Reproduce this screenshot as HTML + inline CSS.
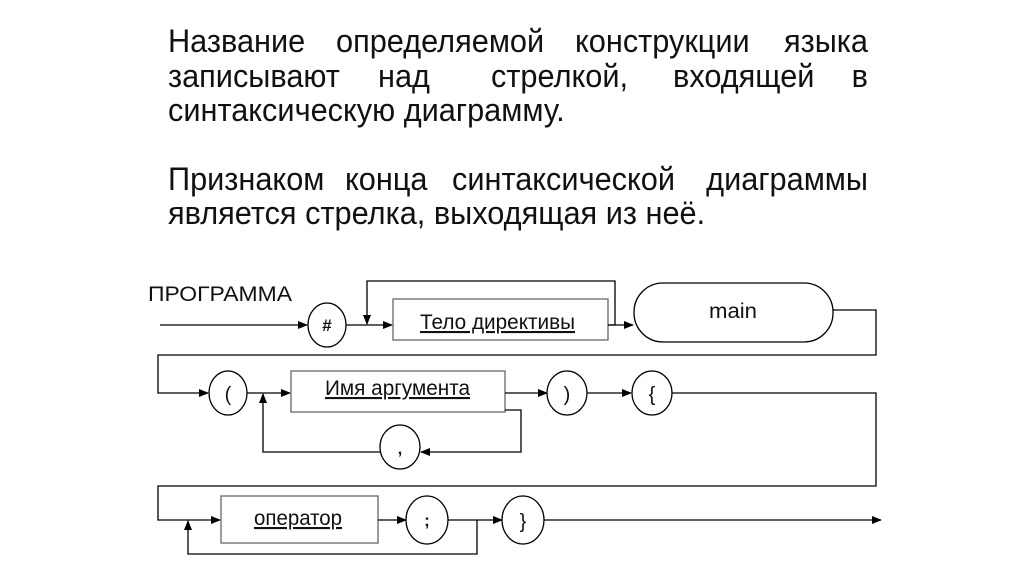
<!DOCTYPE html>
<html><head><meta charset="utf-8"><style>
html,body{margin:0;padding:0;background:#fff;width:1024px;height:574px;overflow:hidden}
svg text{font-family:"Liberation Sans",sans-serif;fill:#111}
</style></head><body>
<svg width="1024" height="574" viewBox="0 0 1024 574" xmlns="http://www.w3.org/2000/svg">
<defs><marker id="a" markerWidth="10" markerHeight="8" refX="9" refY="4" orient="auto" markerUnits="userSpaceOnUse"><path d="M0,0 L10,4 L0,8 z" fill="#000"/></marker></defs>
<g font-size="32">
<text transform="translate(168,52) scale(0.96,1)">Название</text>
<text transform="translate(336,52) scale(0.96,1)">определяемой</text>
<text transform="translate(575,52) scale(0.96,1)">конструкции</text>
<text transform="translate(868,52) scale(0.96,1)" text-anchor="end">языка</text>
<text transform="translate(168,87) scale(0.96,1)">записывают</text>
<text transform="translate(378,87) scale(0.96,1)">над</text>
<text transform="translate(491,87) scale(0.96,1)">стрелкой,</text>
<text transform="translate(673,87) scale(0.96,1)">входящей</text>
<text transform="translate(868,87) scale(0.96,1)" text-anchor="end">в</text>
<text transform="translate(168,121) scale(0.96,1)">синтаксическую диаграмму.</text>
<text transform="translate(168,190) scale(0.96,1)">Признаком</text>
<text transform="translate(345,190) scale(0.96,1)">конца</text>
<text transform="translate(452,190) scale(0.96,1)">синтаксической</text>
<text transform="translate(868,190) scale(0.96,1)" text-anchor="end">диаграммы</text>
<text transform="translate(168,224) scale(0.96,1)">является стрелка, выходящая из неё.</text>
</g>
<g fill="none" stroke="#000" stroke-width="1.3">
<line x1="160" y1="325" x2="307" y2="325" marker-end="url(#a)"/>
<ellipse cx="327" cy="325" rx="19" ry="22" fill="#fff"/>
<line x1="346" y1="325" x2="392" y2="325" marker-end="url(#a)"/>
<polyline points="608,325 615,325 615,281 367,281 367,324" marker-end="url(#a)"/>
<rect x="393" y="299" width="215" height="41" fill="#fff" stroke="#666"/>
<line x1="608" y1="325" x2="633" y2="325" marker-end="url(#a)"/>
<rect x="634" y="283" width="199" height="59" rx="29" fill="#fff"/>
<polyline points="833,310 876,310 876,355 158,355 158,393 208,393" marker-end="url(#a)"/>
<ellipse cx="228" cy="393" rx="19" ry="22" fill="#fff"/>
<line x1="247" y1="393" x2="290" y2="393" marker-end="url(#a)"/>
<rect x="291" y="371" width="214" height="41" fill="#fff" stroke="#666"/>
<line x1="505" y1="393" x2="547" y2="393" marker-end="url(#a)"/>
<polyline points="505,410 521,410 521,452 421,452" marker-end="url(#a)"/>
<ellipse cx="400" cy="447" rx="20" ry="22" fill="#fff"/>
<polyline points="380,452 263,452 263,394" marker-end="url(#a)"/>
<ellipse cx="567" cy="393" rx="20" ry="22" fill="#fff"/>
<line x1="587" y1="393" x2="631" y2="393" marker-end="url(#a)"/>
<ellipse cx="652" cy="393" rx="20" ry="22" fill="#fff"/>
<polyline points="672,393 876,393 876,486 158,486 158,520 220,520" marker-end="url(#a)"/>
<rect x="221" y="496" width="157" height="47" fill="#fff" stroke="#666"/>
<line x1="378" y1="520" x2="406" y2="520" marker-end="url(#a)"/>
<ellipse cx="427" cy="520" rx="21" ry="24" fill="#fff"/>
<line x1="448" y1="520" x2="502" y2="520" marker-end="url(#a)"/>
<polyline points="477,520 477,554 188,554 188,521" marker-end="url(#a)"/>
<ellipse cx="523" cy="520" rx="21" ry="24" fill="#fff"/>
<line x1="544" y1="520" x2="881" y2="520" marker-end="url(#a)"/>
</g>
<g font-size="21">
<text x="148" y="301" textLength="144" lengthAdjust="spacingAndGlyphs">ПРОГРАММА</text>
<text x="420" y="329" textLength="155" lengthAdjust="spacingAndGlyphs" text-decoration="underline">Тело директивы</text>
<text x="709" y="318" textLength="48" lengthAdjust="spacingAndGlyphs">main</text>
<text x="325" y="395" textLength="145" lengthAdjust="spacingAndGlyphs" text-decoration="underline">Имя аргумента</text>
<text x="254" y="525" textLength="88" lengthAdjust="spacingAndGlyphs" text-decoration="underline">оператор</text>
<text x="327" y="331" text-anchor="middle" font-size="17" font-weight="bold">#</text>
<text x="228" y="401" text-anchor="middle" font-size="20">(</text>
<text x="567" y="401" text-anchor="middle" font-size="20">)</text>
<text x="652" y="401" text-anchor="middle" font-size="20">{</text>
<text x="400" y="454" text-anchor="middle" font-size="16" font-weight="bold">,</text>
<text x="427" y="526" text-anchor="middle" font-size="17" font-weight="bold">;</text>
<text x="523" y="528" text-anchor="middle" font-size="20">}</text>
</g>
</svg>
</body></html>
